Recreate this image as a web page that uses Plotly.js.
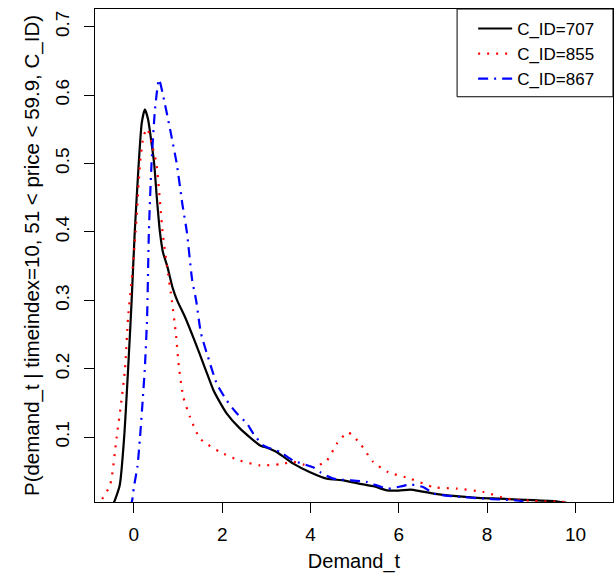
<!DOCTYPE html>
<html>
<head>
<meta charset="utf-8">
<script src="https://cdn.plot.ly/plotly-3.0.1.min.js"></script>
<style>html,body{margin:0;padding:0;background:#fff;}#chart{width:616px;height:577px;}</style>
</head>
<body>
<div id="chart"></div>
<script>
// C_ID=707 (black, solid)
const x707 = [-0.5, -0.45, -0.32, -0.22, -0.13, -0.05, 0.02, 0.11, 0.18, 0.25, 0.32, 0.40, 0.46, 0.52, 0.59, 0.66, 0.76, 0.88, 0.98, 1.17, 1.37, 1.60, 1.80, 1.88, 2.10, 2.40, 2.86, 3.0, 3.23, 3.40, 3.61, 3.99, 4.37, 4.74, 5.12, 5.45, 5.73, 6.0, 6.26, 6.5, 6.79, 7.1, 7.54, 7.9, 8.30, 8.7, 9.05, 9.4, 9.6, 9.8];
const y707 = [0.0, 0.005, 0.03, 0.10, 0.20, 0.30, 0.40, 0.50, 0.56, 0.579, 0.565, 0.53, 0.50, 0.45, 0.40, 0.37, 0.349, 0.318, 0.30, 0.274, 0.242, 0.203, 0.169, 0.159, 0.135, 0.113, 0.088, 0.085, 0.0785, 0.071, 0.0615, 0.049, 0.0396, 0.037, 0.032, 0.028, 0.0225, 0.022, 0.0235, 0.021, 0.0177, 0.015, 0.0127, 0.011, 0.0104, 0.009, 0.008, 0.007, 0.006, 0.004];

// C_ID=855 (red, dotted)
const x855 = [-0.85, -0.77, -0.54, -0.39, -0.28, -0.20, -0.13, -0.05, 0.04, 0.14, 0.22, 0.30, 0.40, 0.51, 0.65, 0.75, 0.86, 0.95, 1.02, 1.12, 1.27, 1.5, 1.95, 2.40, 2.86, 3.31, 3.61, 3.85, 4.07, 4.37, 4.6, 4.85, 5.12, 5.42, 5.76, 6.26, 6.79, 7.31, 7.92, 8.45, 9.05, 9.8];
const y855 = [0.0, 0.005, 0.03, 0.10, 0.154, 0.20, 0.276, 0.33, 0.40, 0.50, 0.54, 0.551, 0.53, 0.50, 0.40, 0.35, 0.30, 0.252, 0.203, 0.159, 0.13, 0.098, 0.0785, 0.066, 0.059, 0.0605, 0.064, 0.06, 0.0566, 0.066, 0.091, 0.107, 0.091, 0.064, 0.049, 0.0396, 0.027, 0.025, 0.02, 0.0104, 0.007, 0.0054];

// C_ID=867 (blue, dot-dash)
const x867 = [-0.13, -0.05, 0.0, 0.08, 0.14, 0.20, 0.25, 0.30, 0.34, 0.40, 0.48, 0.57, 0.66, 0.82, 0.97, 1.10, 1.20, 1.32, 1.41, 1.52, 1.70, 1.88, 2.10, 2.33, 2.56, 2.71, 2.93, 3.31, 3.61, 4.07, 4.22, 4.52, 5.27, 5.73, 6.03, 6.26, 6.56, 6.79, 7.24, 7.92, 8.30, 8.75, 8.85];
const y867 = [0.0, 0.005, 0.027, 0.057, 0.10, 0.154, 0.203, 0.276, 0.40, 0.50, 0.58, 0.623, 0.60, 0.55, 0.50, 0.44, 0.40, 0.33, 0.30, 0.252, 0.213, 0.178, 0.154, 0.135, 0.12, 0.105, 0.088, 0.0785, 0.066, 0.0557, 0.049, 0.0396, 0.0347, 0.025, 0.028, 0.031, 0.027, 0.0177, 0.0137, 0.0104, 0.009, 0.007, 0.004];

const seriesNames = ['C_ID=707', 'C_ID=855', 'C_ID=867'];
const xTickVals = [0, 2, 4, 6, 8, 10];
const yTickVals = [0.1, 0.2, 0.3, 0.4, 0.5, 0.6, 0.7];
const xTitle = 'Demand_t';
const yTitle = 'P(demand_t | timeindex=10, 51 < price < 59.9, C_ID)';

const FONT = 'Liberation Sans, Arial, sans-serif';

const traces = [
  {x: x707, y: y707, name: seriesNames[0], type: 'scatter', mode: 'lines',
   line: {color: '#000000', width: 2.2, dash: 'solid', shape: 'spline', smoothing: 0.6}},
  {x: x855, y: y855, name: seriesNames[1], type: 'scatter', mode: 'lines',
   line: {color: '#FF0000', width: 2.2, dash: '2px,7px', shape: 'spline', smoothing: 0.6}},
  {x: x867, y: y867, name: seriesNames[2], type: 'scatter', mode: 'lines',
   line: {color: '#0000FF', width: 2.2, dash: '10px,6px,2px,6px', shape: 'spline', smoothing: 0.6}}
];

const layout = {
  width: 616, height: 577,
  margin: {l: 95, r: 3, t: 9, b: 75},
  paper_bgcolor: '#fff', plot_bgcolor: '#fff',
  font: {family: FONT, size: 18, color: '#000'},
  showlegend: true,
  legend: {
    x: 0.73, y: 0.996, xanchor: 'left', yanchor: 'top',
    bgcolor: 'rgba(0,0,0,0)', borderwidth: 0,
    font: {family: FONT, size: 17, color: '#000'},
    itemwidth: 34
  },
  shapes: [{type: 'rect', xref: 'paper', yref: 'paper', x0: 0.699, x1: 1, y0: 0.822, y1: 1,
            line: {color: '#000', width: 1}, fillcolor: 'rgba(0,0,0,0)'}],
  xaxis: {
    range: [-0.88, 10.85], tickvals: xTickVals, ticktext: xTickVals.map(String),
    showgrid: false, zeroline: false, showline: true, mirror: true, linecolor: '#000', linewidth: 1,
    ticks: 'outside', ticklen: 10, tickcolor: '#000', tickwidth: 1,
    tickfont: {family: FONT, size: 19, color: '#000'}, ticklabelstandoff: 5,
    title: {text: xTitle, font: {family: FONT, size: 20, color: '#000'}, standoff: 10}
  },
  yaxis: {
    range: [0.0054, 0.7258], tickvals: yTickVals, ticktext: yTickVals.map(v => v.toFixed(1)),
    showgrid: false, zeroline: false, showline: true, mirror: true, linecolor: '#000', linewidth: 1,
    ticks: 'outside', ticklen: 10, tickcolor: '#000', tickwidth: 1, tickangle: -90,
    tickfont: {family: FONT, size: 19, color: '#000'}, ticklabelstandoff: 7,
    title: {text: yTitle, font: {family: FONT, size: 20.5, color: '#000'}, standoff: 7}
  }
};

Plotly.newPlot('chart', traces, layout, {displayModeBar: false, staticPlot: true});
</script>
</body>
</html>
